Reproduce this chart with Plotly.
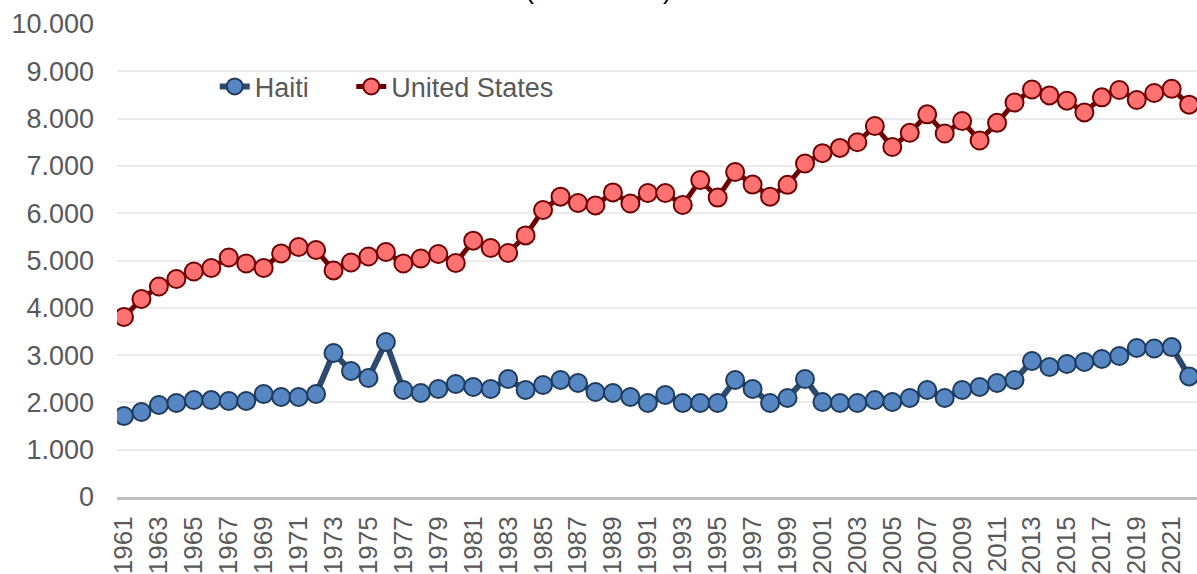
import plotly.graph_objects as go

years = list(range(1961, 2023))
haiti = [1712, 1797, 1945, 1987, 2050, 2050, 2030, 2030, 2178, 2114,
         2114, 2178, 3044, 2664, 2516, 3277, 2262, 2199, 2283, 2389,
         2325, 2283, 2495, 2262, 2368, 2473, 2410, 2220, 2199, 2114,
         1987, 2156, 1987, 1987, 1987, 2473, 2283, 1987, 2093, 2495,
         2008, 1987, 1987, 2050, 2008, 2093, 2262, 2093, 2262, 2325,
         2410, 2473, 2875, 2748, 2812, 2854, 2918, 2981, 3150, 3140,
         3170, 2550]
usa = [3805, 4186, 4450, 4609, 4768, 4841, 5064, 4937, 4841, 5150,
       5285, 5222, 4790, 4958, 5085, 5180, 4937, 5042, 5137, 4947,
       5420, 5264, 5159, 5530, 6068, 6350, 6216, 6165, 6440, 6205,
       6427, 6427, 6173, 6700, 6330, 6871, 6605, 6350, 6600, 7050,
       7270, 7380, 7500, 7844, 7400, 7700, 8090, 7685, 7949, 7537,
       7910, 8340, 8615, 8490, 8380, 8130, 8450, 8605, 8393, 8541,
       8630, 8295]
tick_years = list(range(1961, 2022, 2))
y_ticks = [0, 1000, 2000, 3000, 4000, 5000, 6000, 7000, 8000, 9000, 10000]
title_text = "(1961-2022)"

FONT = "Liberation Sans, Arial, sans-serif"
GREY = "#595959"
NB = "\u00a0"

fig = go.Figure()
fig.add_trace(go.Scatter(
    x=years, y=haiti, name="Haiti" + NB * 5, mode="lines+markers",
    line=dict(color="#2C4A6E", width=6),
    marker=dict(size=18, color="#5687C2", line=dict(color="#1F3B5C", width=2)),
))
fig.add_trace(go.Scatter(
    x=years, y=usa, name="United States", mode="lines+markers",
    line=dict(color="#6E0000", width=5),
    marker=dict(size=18, color="#FF7272", line=dict(color="#6E0000", width=2)),
))

fig.update_layout(
    width=1197, height=574,
    margin=dict(l=117, r=0, t=24, b=77, autoexpand=False),
    paper_bgcolor="white", plot_bgcolor="white",
    font=dict(family=FONT, size=27, color=GREY),
    separators=",.",
    showlegend=True,
    legend=dict(orientation="h", x=0.0905, y=0.867, xanchor="left", yanchor="middle",
                font=dict(size=27, color=GREY), bgcolor="rgba(0,0,0,0)",
                tracegroupgap=0),
    xaxis=dict(range=[1960.6, 2022.45], tickmode="array", tickvals=tick_years,
               ticktext=[str(y) for y in tick_years], tickangle=-90,
               showgrid=False, showline=True, linecolor="#BFBFBF", linewidth=3,
               ticks="", zeroline=False, automargin=False,
               ticklabelstandoff=6,
               tickfont=dict(size=26, color=GREY)),
    yaxis=dict(range=[0, 10000], tickmode="array", tickvals=y_ticks,
               tickformat=",d", showgrid=True, gridcolor="#EBEBEB", gridwidth=2,
               showline=False, zeroline=False, ticks="", automargin=False,
               ticklabelstandoff=22,
               tickfont=dict(size=27, color=GREY)),
    annotations=[dict(text=title_text, xref="paper", yref="paper", x=0.446, y=1.037,
                      xanchor="center", yanchor="bottom", showarrow=False,
                      font=dict(size=27, color="#000000", family=FONT))],
)

fig.write_html("out.html", config={"displayModeBar": False},
               post_script="document.body.style.margin='0';document.body.style.overflow='hidden';")
